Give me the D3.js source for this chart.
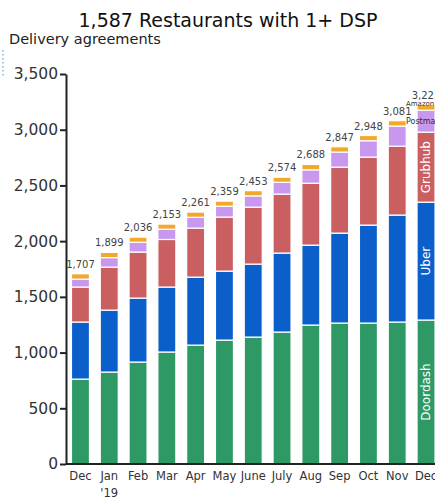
<!DOCTYPE html>
<html>
<head>
<meta charset="utf-8">
<script src="https://cdn.jsdelivr.net/npm/d3@7"></script>
<style>
  body { margin: 0; background: #fff; }
  svg { display: block; font-family: "DejaVu Sans", sans-serif; }
</style>
</head>
<body>
<svg id="chart" width="435" height="504"></svg>
<script>
// months, Dec '18 to Dec '19
const months = ["Dec", "Jan", "Feb", "Mar", "Apr", "May", "June", "July", "Aug", "Sep", "Oct", "Nov", "Dec"]
const totals = [1707, 1899, 2036, 2153, 2261, 2359, 2453, 2574, 2688, 2847, 2948, 3081, 3223]
const doordash = [762, 825, 915, 1005, 1067, 1112, 1139, 1184, 1247, 1265, 1265, 1274, 1292]
const uber = [512, 556, 574, 583, 610, 619, 655, 709, 717, 807, 879, 960, 1058]
const grubhub = [314, 386, 413, 427, 440, 485, 511, 529, 556, 592, 610, 618, 628]
const postmates = [71, 85, 88, 92, 97, 97, 101, 106, 120, 135, 147, 181, 197]
const amazon = [48, 47, 46, 46, 47, 46, 47, 46, 48, 48, 47, 48, 48]
const yTicks = [0, 500, 1000, 1500, 2000, 2500, 3000, 3500]

const keys = ["Doordash", "Uber", "Grubhub", "Postmates", "Amazon"]
const colors = {
    Doordash: "#2f9966",
    Uber: "#0b5fcb",
    Grubhub: "#c95f60",
    Postmates: "#c798ee",
    Amazon: "#f2a82a"
}

const rows = months.map((m, i) => ({
    i: i,
    Doordash: doordash[i],
    Uber: uber[i],
    Grubhub: grubhub[i],
    Postmates: postmates[i],
    Amazon: amazon[i]
}))

const svg = d3.select("#chart")

const x = d3.scaleBand()
    .domain(d3.range(months.length))
    .range([66, 440.5])
    .paddingInner(0.375)
    .paddingOuter(0.19)

const y = d3.scaleLinear()
    .domain([0, 3500])
    .range([464, 74])

const series = d3.stack().keys(keys)(rows)

// bars
svg.append("g")
    .selectAll("g")
    .data(series)
    .enter()
    .append("g")
    .attr("fill", d => colors[d.key])
    .selectAll("rect")
    .data(d => d)
    .enter()
    .append("rect")
    .attr("x", d => x(d.data.i))
    .attr("width", x.bandwidth())
    .attr("y", d => y(d[1]))
    .attr("height", d => y(d[0]) - y(d[1]))
    .attr("stroke", "#fff")
    .attr("stroke-width", 1.2)

// totals
svg.append("g")
    .selectAll("text")
    .data(totals)
    .enter()
    .append("text")
    .attr("x", (d, i) => x(i) + x.bandwidth() / 2)
    .attr("y", (d, i) => y(d) - 6)
    .attr("text-anchor", "middle")
    .attr("font-size", 10)
    .attr("fill", "#444")
    .text(d => d3.format(",")(d))

// segment labels in the last bar
const last = months.length - 1
const lastStack = series.map(s => s[last])
const cx = x(last) + x.bandwidth() / 2
;[0, 1, 2].forEach(k => {
    const cy = (y(lastStack[k][0]) + y(lastStack[k][1])) / 2
    svg.append("text")
        .attr("transform", `translate(${cx + 4}, ${cy}) rotate(-90)`)
        .attr("text-anchor", "middle")
        .attr("font-size", 12)
        .attr("fill", "#fff")
        .text(keys[k])
})
svg.append("text")
    .attr("x", 406)
    .attr("y", (y(lastStack[3][0]) + y(lastStack[3][1])) / 2 + 3)
    .attr("font-size", 8)
    .attr("fill", "#333")
    .text("Postmates")
svg.append("text")
    .attr("x", 406)
    .attr("y", y(lastStack[4][1]) + 1)
    .attr("font-size", 7)
    .attr("fill", "#333")
    .text("Amazon")

// axes
const yAxis = d3.axisLeft(y)
    .tickValues(yTicks)
    .tickFormat(d3.format(","))
    .tickSize(6)
    .tickSizeOuter(0)
    .tickPadding(2)

const gy = svg.append("g")
    .attr("transform", "translate(66, 0)")
    .call(yAxis)
gy.selectAll("text").attr("font-size", 15.5).attr("fill", "#333").attr("font-family", "DejaVu Sans")
gy.selectAll("line").attr("stroke", "#222").attr("stroke-width", 2)
gy.select(".domain").attr("stroke", "#222").attr("stroke-width", 2)

svg.append("line")
    .attr("x1", 66)
    .attr("x2", 435)
    .attr("y1", y(0))
    .attr("y2", y(0))
    .attr("stroke", "#222")
    .attr("stroke-width", 2)

// month labels
svg.append("g")
    .selectAll("text")
    .data(months)
    .enter()
    .append("text")
    .attr("x", (d, i) => x(i) + x.bandwidth() / 2)
    .attr("y", 480)
    .attr("text-anchor", "middle")
    .attr("font-size", 11.5)
    .attr("fill", "#333")
    .text(d => d)

svg.append("text")
    .attr("x", x(1) + x.bandwidth() / 2)
    .attr("y", 497)
    .attr("text-anchor", "middle")
    .attr("font-size", 11.5)
    .attr("fill", "#333")
    .text("'19")

// titles
svg.append("text")
    .attr("x", 228)
    .attr("y", 27)
    .attr("text-anchor", "middle")
    .attr("font-size", 19)
    .attr("fill", "#111")
    .text("1,587 Restaurants with 1+ DSP")

svg.append("text")
    .attr("x", 9)
    .attr("y", 44)
    .attr("font-size", 14.5)
    .attr("fill", "#222")
    .text("Delivery agreements")

// selection marker at the left edge
svg.append("line")
    .attr("x1", 3)
    .attr("x2", 3)
    .attr("y1", 50)
    .attr("y2", 78)
    .attr("stroke", "#7fb2de")
    .attr("stroke-width", 1.5)
    .attr("stroke-dasharray", "1.5,2.5")
</script>
</body>
</html>
